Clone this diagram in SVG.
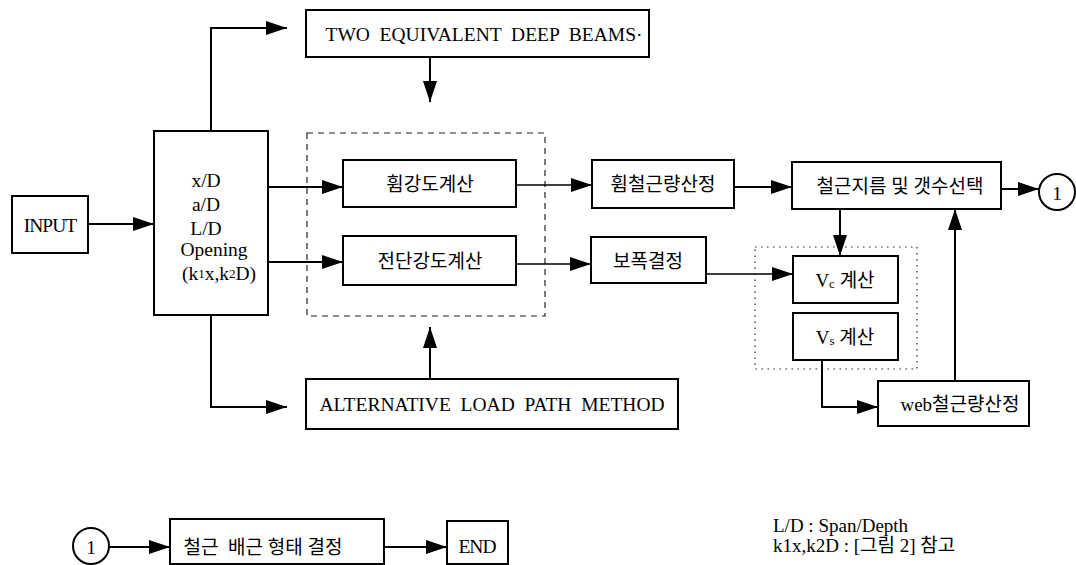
<svg xmlns="http://www.w3.org/2000/svg" width="1076" height="565" viewBox="0 0 1076 565">
<defs>
<marker id="ah" markerUnits="userSpaceOnUse" markerWidth="22" markerHeight="14" refX="21" refY="7" orient="auto">
<path d="M0,0 L21,7 L0,14 z" fill="#000"/>
</marker>
<style>
.box{fill:#fff;stroke:#000;stroke-width:2}
.t{font-family:"Liberation Serif","Noto Sans CJK KR",serif;font-size:19.5px;fill:#000;text-anchor:middle;dominant-baseline:central}
.k{font-family:"Liberation Serif","Noto Sans CJK KR",serif;font-size:19px;font-weight:normal;fill:#000;text-anchor:middle;dominant-baseline:central}
.c{fill:none;stroke:#000;stroke-width:2;marker-end:url(#ah)}
.cthin{fill:none;stroke:#000;stroke-width:1.4;marker-end:url(#ah)}
.dash{fill:none;stroke:#222;stroke-width:1.2;stroke-dasharray:6,5}
.dot{fill:none;stroke:#222;stroke-width:1.2;stroke-dasharray:1.5,4.5}
.leg{font-family:"Liberation Serif","Noto Sans CJK KR",serif;font-size:19px;fill:#000}
</style>
</defs>
<rect width="1076" height="565" fill="#fff"/>

<rect class="dash" x="307" y="133" width="238" height="183"/>
<rect class="dot" x="755" y="247" width="162" height="122"/>

<g id="connectors">
<path class="c" d="M88,224 H154"/>
<path class="c" d="M211,131 V28 H287"/>
<path class="c" d="M430,57 V102"/>
<path class="c" d="M268,187 H343"/>
<path class="c" d="M268,262 H343"/>
<path class="c" d="M211,315 V407 H287"/>
<path class="c" d="M430,379 V327"/>
<path class="cthin" d="M516,185 H592"/>
<path class="cthin" d="M516,264 H591"/>
<path class="c" d="M734,187 H792"/>
<path class="c" d="M1001,189 H1039"/>
<path class="c" d="M840,209 V256"/>
<path class="cthin" d="M706,274 H793"/>
<path class="c" d="M822,360 V407 H878"/>
<path class="c" d="M955,381 V209"/>
<path class="c" d="M109,547 H170"/>
<path class="c" d="M384,547 H447"/>
</g>

<g id="input">
<rect class="box" x="12" y="196" width="76" height="57"/>
<text class="t" x="50" y="225" letter-spacing="-1">INPUT</text>
</g>

<g id="params">
<rect class="box" x="154" y="131" width="114" height="184"/>
<text class="t" x="206" y="180" font-size="20.5">x/D</text>
<text class="t" x="206" y="204" font-size="20.5">a/D</text>
<text class="t" x="206" y="228" font-size="20.5">L/D</text>
<text class="t" x="214" y="249" font-size="20.5">Opening</text>
<text class="t" x="219" y="273" font-size="20.5">(k<tspan font-size="13">1</tspan>x,k<tspan font-size="13">2</tspan>D)</text>
</g>

<g id="deepbeams">
<rect class="box" x="306" y="10" width="343" height="47"/>
<text class="t" x="484" y="34" xml:space="preserve">TWO  EQUIVALENT  DEEP  BEAMS·</text>
</g>

<g id="flexure-strength">
<rect class="box" x="343" y="160" width="173" height="47"/>
<text class="k" x="430" y="184">휨강도계산</text>
</g>

<g id="shear-strength">
<rect class="box" x="343" y="236" width="173" height="49"/>
<text class="k" x="430" y="261">전단강도계산</text>
</g>

<g id="flexure-steel">
<rect class="box" x="592" y="160" width="142" height="48"/>
<text class="k" x="663" y="184">휨철근량산정</text>
</g>

<g id="width">
<rect class="box" x="591" y="237" width="115" height="46"/>
<text class="k" x="648" y="261">보폭결정</text>
</g>

<g id="bar-select">
<rect class="box" x="792" y="162" width="209" height="47"/>
<text class="k" x="900" y="186">철근지름 및 갯수선택</text>
</g>

<g id="conn1-top">
<circle cx="1057" cy="192" r="18" fill="#fff" stroke="#000" stroke-width="2"/>
<text class="t" x="1057" y="193">1</text>
</g>

<g id="vc">
<rect class="box" x="793" y="256" width="105" height="47"/>
<text class="k" x="845" y="280">V<tspan font-size="13" dy="3">c</tspan><tspan dy="-3"> 계산</tspan></text>
</g>

<g id="vs">
<rect class="box" x="793" y="313" width="105" height="47"/>
<text class="k" x="845" y="337">V<tspan font-size="13" dy="3">s</tspan><tspan dy="-3"> 계산</tspan></text>
</g>

<g id="web-steel">
<rect class="box" x="878" y="381" width="151" height="45"/>
<text class="k" x="960" y="404">web철근량산정</text>
</g>

<g id="alt-load-path">
<rect class="box" x="306" y="379" width="372" height="50"/>
<text class="t" x="492" y="404" xml:space="preserve">ALTERNATIVE  LOAD  PATH  METHOD</text>
</g>

<g id="conn1-bottom">
<circle cx="91" cy="546" r="18" fill="#fff" stroke="#000" stroke-width="2"/>
<text class="t" x="91" y="547">1</text>
</g>

<g id="layout">
<rect class="box" x="170" y="519" width="214" height="45"/>
<text class="k" x="263" y="547" xml:space="preserve">철근  배근 형태 결정</text>
</g>

<g id="end">
<rect class="box" x="447" y="521" width="61" height="43"/>
<text class="t" x="477" y="546" letter-spacing="-1">END</text>
</g>

<g id="legend">
<text class="leg" x="773" y="532">L/D : Span/Depth</text>
<text class="leg" x="773" y="552">k1x,k2D : [그림 2] 참고</text>
</g>
</svg>
